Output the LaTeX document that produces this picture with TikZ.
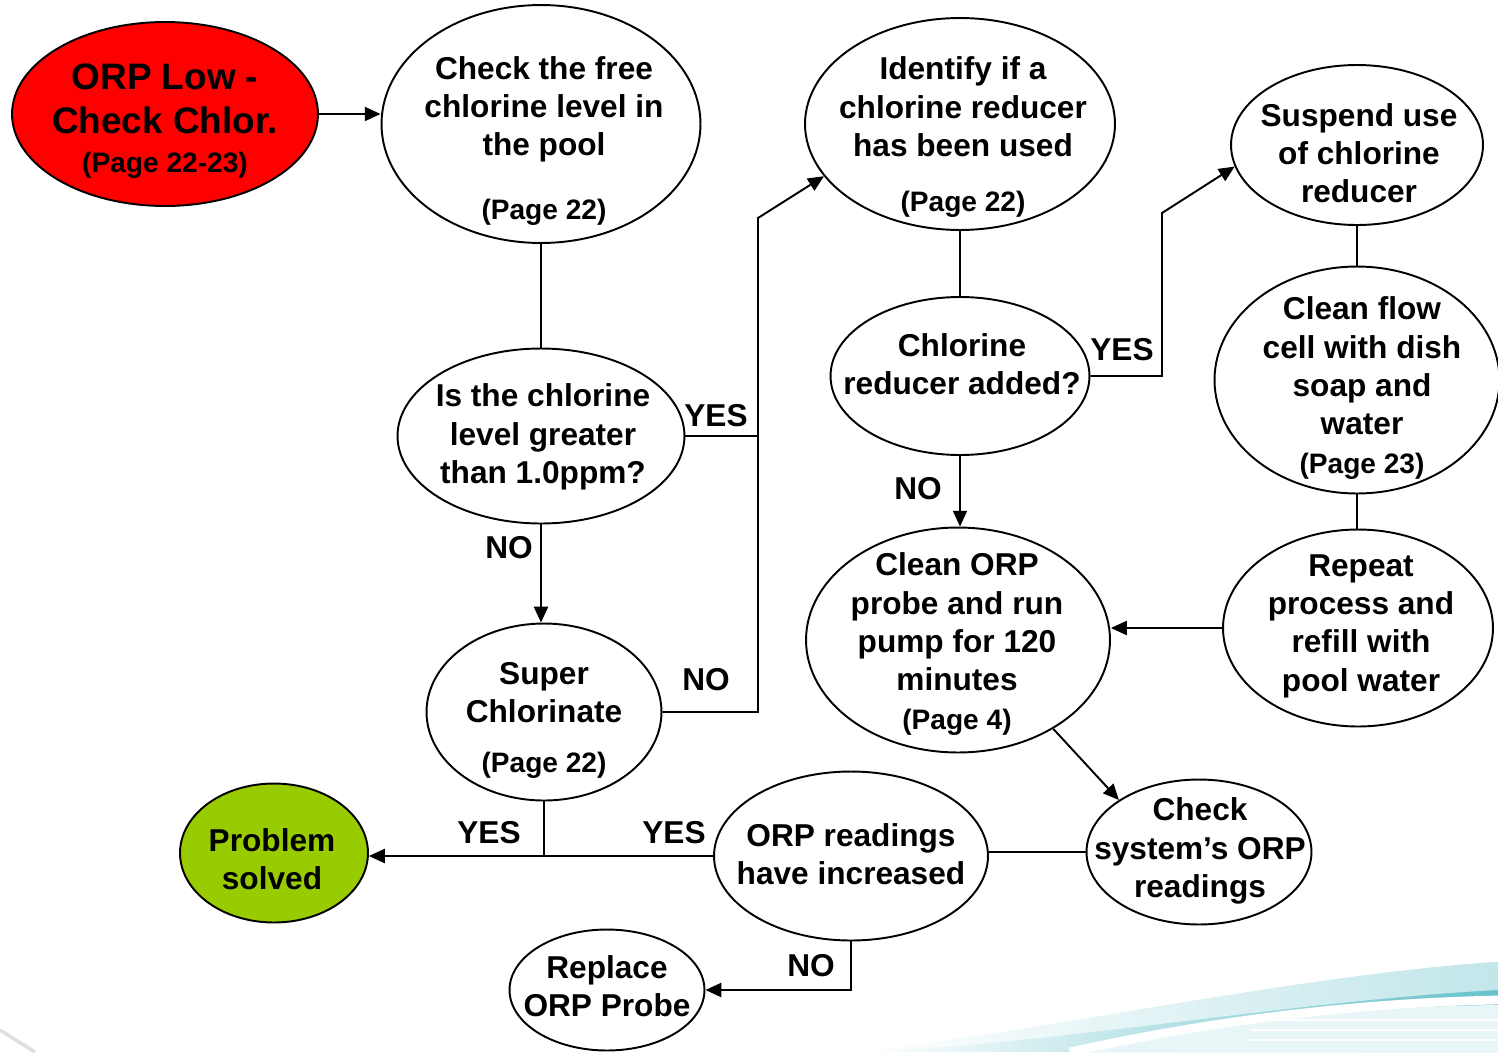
\documentclass[tikz,border=0pt]{standalone}
\usepackage{fontspec}
\setmainfont{Liberation Sans}
\usetikzlibrary{shapes,arrows.meta}

\definecolor{alarmred}{RGB}{255,0,0}
\definecolor{okgreen}{RGB}{153,204,0}
\definecolor{wave}{RGB}{64,178,190}
\newcommand{\pg}[1]{{\fontsize{16}{19}\selectfont #1}}

\begin{document}
\begin{tikzpicture}[x=0.02cm,y=-0.02cm,>={Triangle[length=9pt,width=8pt]},font=\bfseries]
  \tikzstyle{bubble}=[ellipse,draw,line width=1.1pt,inner sep=0pt]
  \tikzstyle{words}=[align=center,inner sep=0pt,font=\bfseries\fontsize{18}{21.8}\selectfont]
  \tikzstyle{answer}=[inner sep=0pt,font=\bfseries\fontsize{18}{21.8}\selectfont]
  \tikzstyle{link}=[line width=1.1pt]

  \useasboundingbox (0,0) rectangle (1498,1052);

  % slide background wave
  \shade[left color=white,right color=wave!80] (860,1052) .. controls (1050,1030) and (1300,975) .. (1498,962) -- (1498,1052) -- cycle;
  \shade[top color=white,bottom color=white,opacity=0.6] (860,1052) .. controls (1050,1030) and (1300,975) .. (1498,962) -- (1498,990) .. controls (1300,1000) and (1050,1045) .. (860,1052) -- cycle;
  \fill[wave!12] (1090,1052) .. controls (1250,1015) and (1400,1006) .. (1498,1005) -- (1498,1052) -- cycle;
  \draw[white,line width=5pt] (1070,1052) .. controls (1250,1012) and (1400,1002) .. (1498,1000);
  \foreach \yy in {1020,1030,1040} \draw[white,line width=1.5pt] (1250,\yy) -- (1498,\yy);
  \draw[gray!25,line width=2pt] (0,1030) -- (35,1052);

  % shapes
  \node [bubble,fill=alarmred,minimum width=6.12cm,minimum height=3.68cm] (orplow) at (165,114) {};
  \node [bubble,minimum width=6.38cm,minimum height=4.76cm] (checkfree) at (541,124) {};
  \node [bubble,minimum width=6.2cm,minimum height=4.24cm] (identify) at (960,124) {};
  \node [bubble,minimum width=5.04cm,minimum height=3.2cm] (suspend) at (1357,145) {};
  \node [bubble,minimum width=5.74cm,minimum height=3.5cm] (greater) at (541,436) {};
  \node [bubble,minimum width=5.18cm,minimum height=3.16cm] (reducer) at (960,376) {};
  \node [bubble,minimum width=5.7cm,minimum height=4.54cm] (flowcell) at (1357,380) {};
  \node [bubble,minimum width=4.7cm,minimum height=3.54cm] (superchlor) at (544,712) {};
  \node [bubble,minimum width=6.08cm,minimum height=4.5cm] (cleanprobe) at (958,640) {};
  \node [bubble,minimum width=5.4cm,minimum height=3.94cm] (repeat) at (1358,628) {};
  \node [bubble,fill=okgreen,minimum width=3.76cm,minimum height=2.78cm] (solved) at (274,853) {};
  \node [bubble,minimum width=5.48cm,minimum height=3.38cm] (readings) at (851,856) {};
  \node [bubble,minimum width=4.5cm,minimum height=2.9cm] (checksys) at (1199,852) {};
  \node [bubble,minimum width=3.9cm,minimum height=2.42cm] (replace) at (607,990) {};

  % texts
  \node [words,font=\bfseries\fontsize{21}{25}\selectfont] (orplow-t) at (165,121) {ORP Low -\\Check Chlor.\\[-0.1cm]\pg{(Page 22-23)}};
  \node [words] (checkfree-t) at (544,141) {Check the free\\chlorine level in\\the pool\\[0.51cm]\pg{(Page 22)}};
  \node [words] (identify-t) at (963,137) {Identify if a\\chlorine reducer\\has been used\\[0.33cm]\pg{(Page 22)}};
  \node [words] (suspend-t) at (1359,153) {Suspend use\\of chlorine\\reducer};
  \node [words] (greater-t) at (543,437) {Is the chlorine\\level greater\\than 1.0ppm?};
  \node [words] (reducer-t) at (962,364) {Chlorine\\reducer added?};
  \node [words] (flowcell-t) at (1362,388) {Clean flow\\cell with dish\\soap and\\water\\\pg{(Page 23)}};
  \node [words] (superchlor-t) at (544,720) {Super\\Chlorinate\\[0.23cm]\pg{(Page 22)}};
  \node [words] (cleanprobe-t) at (957,644) {Clean ORP\\probe and run\\pump for 120\\minutes\\\pg{(Page 4)}};
  \node [words] (repeat-t) at (1361,626) {Repeat\\process and\\refill with\\pool water};
  \node [words] (solved-t) at (272,859) {Problem\\solved};
  \node [words] (readings-t) at (851,854) {ORP readings\\have increased};
  \node [words] (checksys-t) at (1200,851) {Check\\system’s ORP\\readings};
  \node [words] (replace-t) at (607,986) {Replace\\ORP Probe};

  % answers
  \node [answer] (yes-a) at (716,416) {YES};
  \node [answer] (no-a) at (509,548) {NO};
  \node [answer] (no-b) at (706,680) {NO};
  \node [answer] (yes-b) at (1122,350) {YES};
  \node [answer] (no-c) at (918,489) {NO};
  \node [answer] (yes-c) at (489,833) {YES};
  \node [answer] (yes-d) at (674,833) {YES};
  \node [answer] (no-d) at (811,966) {NO};

  \coordinate (riser) at (758,218);
  \coordinate (riser2) at (1162,213);

  % connectors
  \draw [link,->] (orplow.east) -- (checkfree.west |- orplow.east);
  \draw [link] (checkfree.south) -- (greater.north);
  \draw [link] (greater.east) -- (greater.east -| riser);
  \draw [link,->] (greater.south) -- (greater.south |- superchlor.north);
  \draw [link,->] (superchlor.east) -| (riser) -- (identify.201);
  \draw [link] (identify.south) -- (reducer.north);
  \draw [link,->] (reducer.east) -| (riser2) -- (suspend.190);
  \draw [link,->] (reducer.south) -- (reducer.south |- cleanprobe.north);
  \draw [link] (suspend.south) -- (flowcell.north);
  \draw [link] (flowcell.south) -- (flowcell.south |- repeat.north);
  \draw [link,->] (repeat.west) -- (cleanprobe.east |- repeat.west);
  \draw [link,->] (cleanprobe.-43) -- (checksys.147);
  \draw [link] (checksys.west) -- (readings.east |- checksys.west);
  \draw [link,->] (readings.west) -- (solved.east |- readings.west);
  \draw [link] (superchlor.south) -- (superchlor.south |- readings.west);
  \draw [link,->] (readings.south) |- (replace.east);
\end{tikzpicture}
\end{document}
